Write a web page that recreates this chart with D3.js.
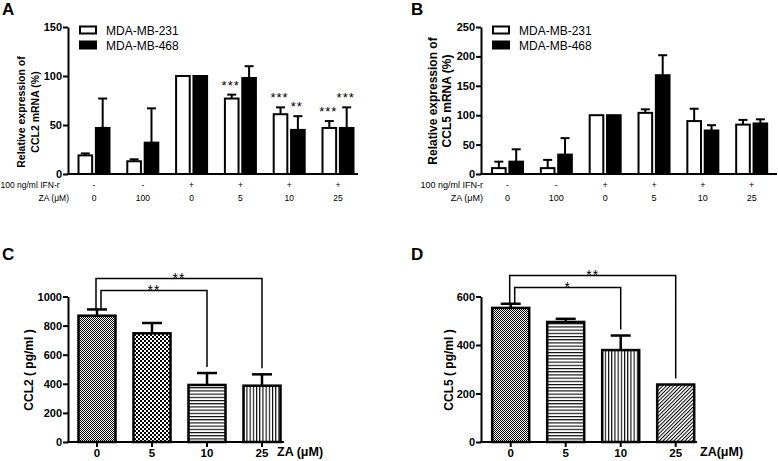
<!DOCTYPE html>
<html lang="en">
<head>
<meta charset="UTF-8">
<title>CCL2 / CCL5 expression</title>
<script src="https://d3js.org/d3.v7.min.js"></script>
<style>
  body { margin: 0; padding: 0; background: #fff; }
  svg { display: block; font-family: "Liberation Sans", Arial, sans-serif; }
  .axis path, .axis line { stroke: #000; stroke-width: 2px; }
  .axis text { font-family: "Liberation Sans", Arial, sans-serif; font-size: 11px; font-weight: bold; fill: #000; }
  .letter { font-size: 17px; font-weight: bold; }
</style>
</head>
<body>
<svg id="fig" width="778" height="461"></svg>
<script>
// A / B : relative mRNA, two cell lines
const zaAB = ["0", "100", "0", "5", "10", "25"];
const ifnAB = ["-", "-", "+", "+", "+", "+"];
const cellLines = ["MDA-MB-231", "MDA-MB-468"];

const ccl2Mrna231 = [19, 13, 100, 77, 61, 47];
const ccl2Mrna231Err = [2, 2, 0, 4, 7, 7];
const ccl2Mrna468 = [47, 32, 100, 98, 45, 47];
const ccl2Mrna468Err = [30, 35, 0, 12, 14, 21];

const ccl5Mrna231 = [10, 10, 100, 104, 90, 84];
const ccl5Mrna231Err = [11, 14, 0, 6, 21, 8];
const ccl5Mrna468 = [21, 33, 100, 168, 74, 86];
const ccl5Mrna468Err = [21, 28, 0, 34, 9, 7];

const starsA = [
  { group: 3, line: 0, text: "***" },
  { group: 4, line: 0, text: "***" },
  { group: 4, line: 1, text: "**" },
  { group: 5, line: 0, text: "***" },
  { group: 5, line: 1, text: "***" }
];

// C / D : ELISA
const zaCD = ["0", "5", "10", "25"];
const ccl2Elisa = [868, 747, 392, 387];
const ccl2ElisaErr = [43, 71, 82, 78];
const ccl5Elisa = [553, 495, 379, 237];
const ccl5ElisaErr = [17, 13, 60, 0];

const bracketsC = [{ from: 0, to: 3, text: "**" }, { from: 0, to: 2, text: "**" }];
const bracketsD = [{ from: 0, to: 3, text: "**" }, { from: 0, to: 2, text: "*" }];

const svg = d3.select("#fig");

// fill patterns
const defs = svg.append("defs");
const fine = defs.append("pattern").attr("id", "fine")
  .attr("patternUnits", "userSpaceOnUse").attr("width", 2).attr("height", 2);
fine.append("rect").attr("width", 2).attr("height", 2).attr("fill", "#fff");
fine.append("rect").attr("width", 1).attr("height", 1).attr("fill", "#000");
fine.append("rect").attr("x", 1).attr("y", 1).attr("width", 1).attr("height", 1).attr("fill", "#000");

const checker = defs.append("pattern").attr("id", "checker")
  .attr("patternUnits", "userSpaceOnUse").attr("width", 4).attr("height", 4);
checker.append("rect").attr("width", 4).attr("height", 4).attr("fill", "#fff");
checker.append("rect").attr("width", 2).attr("height", 2).attr("fill", "#000");
checker.append("rect").attr("x", 2).attr("y", 2).attr("width", 2).attr("height", 2).attr("fill", "#000");

const hlines = defs.append("pattern").attr("id", "hlines")
  .attr("patternUnits", "userSpaceOnUse").attr("width", 4).attr("height", 3.2);
hlines.append("rect").attr("width", 4).attr("height", 3.2).attr("fill", "#fff");
hlines.append("rect").attr("width", 4).attr("height", 1.1).attr("fill", "#000");

const vlines = defs.append("pattern").attr("id", "vlines")
  .attr("patternUnits", "userSpaceOnUse").attr("width", 3.2).attr("height", 4);
vlines.append("rect").attr("width", 3.2).attr("height", 4).attr("fill", "#fff");
vlines.append("rect").attr("width", 1.1).attr("height", 4).attr("fill", "#000");

const diag = defs.append("pattern").attr("id", "diag")
  .attr("patternUnits", "userSpaceOnUse").attr("width", 2.6).attr("height", 10)
  .attr("patternTransform", "rotate(45)");
diag.append("rect").attr("width", 2.6).attr("height", 10).attr("fill", "#fff");
diag.append("rect").attr("width", 1).attr("height", 10).attr("fill", "#000");

function groupedPanel(cfg) {
  const g = svg.append("g");
  const x = d3.scaleBand().domain(d3.range(zaAB.length)).range(cfg.xRange);
  const sub = d3.scaleBand().domain([0, 1]).range([-16.5, 16.5]).paddingInner(0.1);
  const y = d3.scaleLinear().domain([0, cfg.max]).range([174, 27]);
  const cx = (i, s) => x(i) + x.bandwidth() / 2 + sub(s) + sub.bandwidth() / 2;

  const rows = [];
  cfg.series.forEach((s, si) => s.values.forEach((v, i) => rows.push({ i, si, v, e: s.err[i] })));

  // error bars (upper only)
  const eb = g.append("g").attr("stroke", "#000").attr("stroke-width", 2);
  rows.filter(d => d.e > 0).forEach(d => {
    eb.append("line").attr("x1", cx(d.i, d.si)).attr("x2", cx(d.i, d.si))
      .attr("y1", y(d.v)).attr("y2", y(d.v + d.e));
    eb.append("line").attr("x1", cx(d.i, d.si) - 4.5).attr("x2", cx(d.i, d.si) + 4.5)
      .attr("y1", y(d.v + d.e)).attr("y2", y(d.v + d.e));
  });

  g.append("g").selectAll("rect").data(rows).join("rect")
    .attr("x", d => x(d.i) + x.bandwidth() / 2 + sub(d.si) + 1)
    .attr("y", d => y(d.v))
    .attr("width", sub.bandwidth() - 2)
    .attr("height", d => y(0) - y(d.v))
    .attr("fill", d => d.si === 0 ? "#fff" : "#000")
    .attr("stroke", "#000").attr("stroke-width", 2);

  // axes
  g.append("g").attr("class", "axis")
    .attr("transform", `translate(${cfg.axisX},0)`)
    .call(d3.axisLeft(y).tickValues(d3.range(0, cfg.max + 1, cfg.step))
      .tickFormat(d3.format("d")).tickSize(5).tickSizeOuter(0).tickPadding(1));
  g.append("line").attr("x1", cfg.axisX - 1).attr("x2", cfg.xEnd)
    .attr("y1", y(0)).attr("y2", y(0)).attr("stroke", "#000").attr("stroke-width", 2);

  // condition rows under the axis
  const rowFont = cfg.rowFont;
  g.append("g").selectAll("text").data(ifnAB).join("text")
    .attr("x", (d, i) => x(i) + x.bandwidth() / 2).attr("y", 188)
    .attr("text-anchor", "middle").attr("font-size", rowFont).text(d => d);
  g.append("g").selectAll("text").data(zaAB).join("text")
    .attr("x", (d, i) => x(i) + x.bandwidth() / 2).attr("y", 200.5)
    .attr("text-anchor", "middle").attr("font-size", rowFont).text(d => d);
  g.append("text").attr("x", cfg.ifnLabelX).attr("y", 188)
    .attr("text-anchor", cfg.ifnAnchor).attr("font-size", rowFont).text("100 ng/ml IFN-r");
  g.append("text").attr("x", cfg.zaLabelX).attr("y", 200.5)
    .attr("text-anchor", "end").attr("font-size", rowFont).text("ZA (\u03bcM)");

  // y title
  cfg.title.forEach((t, k) => {
    g.append("text")
      .attr("transform", `translate(${cfg.titleX[k]},${cfg.titleY}) rotate(-90)`)
      .attr("text-anchor", "middle").attr("font-size", cfg.titleFont)
      .attr("font-weight", "bold").text(t);
  });

  // legend
  cellLines.forEach((name, k) => {
    g.append("rect").attr("x", cfg.legendX).attr("y", 26.5 + k * 15)
      .attr("width", 16).attr("height", 7)
      .attr("fill", k === 0 ? "#fff" : "#000").attr("stroke", "#000").attr("stroke-width", 2);
    g.append("text").attr("x", cfg.legendX + 26).attr("y", 34.5 + k * 15)
      .attr("font-size", cfg.legendFont).text(name);
  });

  (cfg.stars || []).forEach(s => {
    const ser = cfg.series[s.line];
    const top = ser.values[s.group] + ser.err[s.group];
    g.append("text").attr("x", cx(s.group, s.line) - 1).attr("y", y(top) - 5)
      .attr("text-anchor", "middle").attr("font-size", 13)
      .attr("letter-spacing", 1).text(s.text);
  });

  g.append("text").attr("class", "letter").attr("x", cfg.letterX).attr("y", 15).text(cfg.letter);
}

function elisaPanel(cfg) {
  const g = svg.append("g");
  const x = d3.scaleBand().domain(zaCD).range(cfg.xRange)
    .paddingInner(0.327).paddingOuter(0.1635);
  const y = d3.scaleLinear().domain([0, cfg.max]).range([442, 296.5]);
  const cx = i => x(zaCD[i]) + x.bandwidth() / 2;

  const eb = g.append("g").attr("stroke", "#000").attr("stroke-width", 2.5);
  cfg.values.forEach((v, i) => {
    const e = cfg.err[i];
    if (e <= 0) return;
    eb.append("line").attr("x1", cx(i)).attr("x2", cx(i)).attr("y1", y(v)).attr("y2", y(v + e));
    eb.append("line").attr("x1", cx(i) - 10).attr("x2", cx(i) + 10)
      .attr("y1", y(v + e)).attr("y2", y(v + e));
  });

  g.append("g").selectAll("rect").data(cfg.values).join("rect")
    .attr("x", (d, i) => x(zaCD[i]))
    .attr("y", d => y(d))
    .attr("width", x.bandwidth())
    .attr("height", d => y(0) - y(d))
    .attr("fill", (d, i) => `url(#${cfg.fills[i]})`)
    .attr("stroke", "#000").attr("stroke-width", 2.5);

  g.append("g").attr("class", "axis")
    .attr("transform", `translate(${cfg.axisX},0)`)
    .call(d3.axisLeft(y).tickValues(d3.range(0, cfg.max + 1, cfg.step))
      .tickFormat(d3.format("d")).tickSize(5).tickSizeOuter(0).tickPadding(1));
  const xa = g.append("g").attr("class", "axis")
    .attr("transform", `translate(0,${y(0)})`)
    .call(d3.axisBottom(x).tickSize(5).tickPadding(2));
  xa.select(".domain").remove();
  xa.selectAll("text").style("font-size", "11.5px");
  g.append("line").attr("x1", cfg.axisX - 1).attr("x2", cfg.xEnd)
    .attr("y1", y(0)).attr("y2", y(0)).attr("stroke", "#000").attr("stroke-width", 2);

  g.append("text").attr("x", cfg.zaX).attr("y", 456)
    .attr("font-size", 12.5).attr("font-weight", "bold").text(cfg.zaText);

  g.append("text")
    .attr("transform", `translate(${cfg.titleX},370) rotate(-90)`)
    .attr("text-anchor", "middle").attr("font-size", 12).attr("font-weight", "bold")
    .text(cfg.title);

  // significance brackets
  const br = g.append("g").attr("stroke", "#000").attr("stroke-width", 1.5).attr("fill", "none");
  cfg.brackets.forEach((b, k) => {
    const ly = y(cfg.max) - cfg.bracketGap[k];
    const x1 = cx(b.from) + (k === 0 ? -1 : 4);
    const x2 = cx(b.to);
    const leftBottom = y(cfg.values[b.from] + cfg.err[b.from]);
    const rightBottom = y(cfg.values[b.to] + cfg.err[b.to]) - 6;
    br.append("path").attr("d", `M${x1},${leftBottom}V${ly}H${x2}V${rightBottom}`);
    g.append("text").attr("x", (x1 + x2) / 2).attr("y", ly + 4.5)
      .attr("text-anchor", "middle").attr("font-size", 14)
      .attr("letter-spacing", 1).text(b.text);
  });

  g.append("text").attr("class", "letter").attr("x", cfg.letterX).attr("y", 260).text(cfg.letter);
}

groupedPanel({
  letter: "A", letterX: 2,
  xRange: [69.6, 362.4], axisX: 68, xEnd: 358, max: 150, step: 50,
  series: [
    { values: ccl2Mrna231, err: ccl2Mrna231Err },
    { values: ccl2Mrna468, err: ccl2Mrna468Err }
  ],
  stars: starsA,
  title: ["Relative expression of", "CCL2 mRNA (%)"], titleX: [25, 38.5], titleY: 112, titleFont: 10.5,
  legendX: 80, legendFont: 12,
  rowFont: 8.5, ifnLabelX: 0.5, ifnAnchor: "start", zaLabelX: 69
});

groupedPanel({
  letter: "B", letterX: 411,
  xRange: [483.1, 776.1], axisX: 481, xEnd: 777, max: 250, step: 50,
  series: [
    { values: ccl5Mrna231, err: ccl5Mrna231Err },
    { values: ccl5Mrna468, err: ccl5Mrna468Err }
  ],
  title: ["Relative expression of", "CCL5 mRNA (%)"], titleX: [437, 451], titleY: 101, titleFont: 12,
  legendX: 493, legendFont: 12,
  rowFont: 9, ifnLabelX: 483, ifnAnchor: "end", zaLabelX: 483
});

elisaPanel({
  letter: "C", letterX: 2,
  xRange: [69.5, 289.5], axisX: 68, xEnd: 284, max: 1000, step: 200,
  values: ccl2Elisa, err: ccl2ElisaErr,
  fills: ["fine", "checker", "hlines", "vlines"],
  brackets: bracketsC, bracketGap: [18, 6],
  title: "CCL2 ( pg/ml )", titleX: 33,
  zaX: 277, zaText: "ZA (\u03bcM)"
});

elisaPanel({
  letter: "D", letterX: 411,
  xRange: [483.2, 703.2], axisX: 481, xEnd: 697, max: 600, step: 200,
  values: ccl5Elisa, err: ccl5ElisaErr,
  fills: ["fine", "hlines", "vlines", "diag"],
  brackets: bracketsD, bracketGap: [21, 9],
  title: "CCL5 ( pg/ml )", titleX: 453,
  zaX: 700, zaText: "ZA(\u03bcM)"
});
</script>
</body>
</html>
